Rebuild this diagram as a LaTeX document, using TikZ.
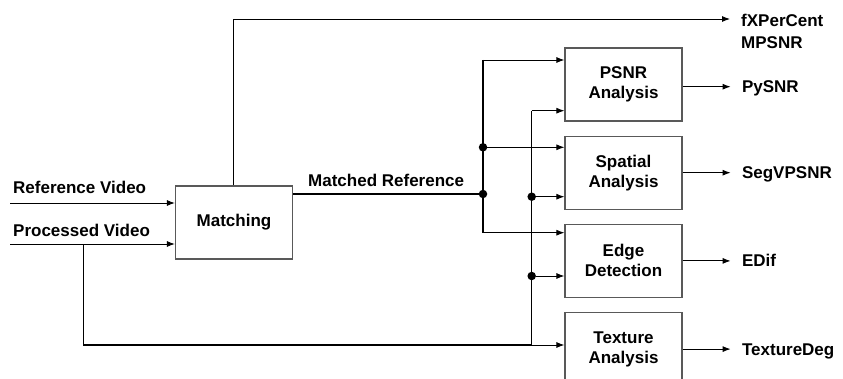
\documentclass[tikz,border=0pt]{standalone}
\usepackage{fontspec}
\setmainfont{Liberation Sans}
\usepackage{tikz}
\usetikzlibrary{positioning,arrows.meta}

\tikzset{
  blockbox/.style={draw=black!65, line width=1.2pt, minimum width=117pt, minimum height=73pt,
    inner sep=0pt, align=center, font=\fontsize{17}{20}\selectfont\bfseries},
  lbl/.style={anchor=base west, inner sep=0pt, font=\fontsize{17}{20}\selectfont\bfseries},
  arr/.style={-{Latex[length=8pt,width=6pt]}, line width=0.9pt},
  wire/.style={line width=1.3pt},
  junc/.style={circle, fill=black, inner sep=0pt, minimum size=8.5pt}
}

\begin{document}
\begin{tikzpicture}[x=1pt,y=1pt]
\useasboundingbox (0,0) rectangle (843,378);

% processing blocks
\node[blockbox] (match) at (234,155.5) {Matching};
\node[blockbox] (psnr) at (623.5,293.5) {PSNR\\Analysis};
\node[blockbox, below=14pt of psnr] (spatial) {Spatial\\Analysis};
\node[blockbox, below=14pt of spatial] (edge) {Edge\\Detection};
\node[blockbox, below=14pt of edge] (texture) {Texture\\Analysis};

% inputs
\coordinate (refin) at (10,175);
\coordinate (procin) at (10,134);
\node[lbl] (reflbl) at (13,184) {Reference Video};
\node[lbl] (proclbl) at (13,141.3) {Processed Video};
\draw[arr] (refin) -- (refin -| match.west);
\draw[arr] (procin) -- (procin -| match.west);

% processed video bypass
\coordinate (pdown) at (83.5,134);
\coordinate (pcorner) at (83.5,33);
\coordinate (pjoin) at (531.7,33);
\coordinate (ptop) at (531.7,267.3);
\draw[wire] (pdown) -- (pcorner) -- (pjoin);
\draw[arr] (pjoin) -- (pjoin -| texture.west);
\draw[wire] (pjoin) -- (ptop);
\draw[arr] (ptop) -- (ptop -| psnr.west);
\node[junc] (pj1) at (531.7,181.3) {};
\node[junc] (pj2) at (531.7,102) {};
\draw[arr] (pj1) -- (pj1 -| spatial.west);
\draw[arr] (pj2) -- (pj2 -| edge.west);

% matched reference
\coordinate (mout) at (match.east |- 0,184);
\node[junc] (mj1) at (483,184) {};
\node[junc] (mj2) at (483,230.7) {};
\coordinate (mtop) at (483,318);
\coordinate (mbot) at (483,145.3);
\node[lbl] (mlbl) at (308,191.3) {Matched Reference};
\draw[wire] (mout) -- (mj1);
\draw[wire] (mtop) -- (mbot);
\draw[arr] (mtop) -- (mtop -| psnr.west);
\draw[arr] (mj2) -- (mj2 -| spatial.west);
\draw[arr] (mbot) -- (mbot -| edge.west);

% outputs
\coordinate (mup) at (233.3,359);
\draw[line width=0.9pt] (match.north -| mup) -- (mup);
\draw[arr] (mup) -- (730,359) coordinate (fxend);
\node[lbl, align=left, font=\fontsize{17}{22}\selectfont\bfseries] (fxlbl) at (741,329.3) {fXPerCent\\MPSNR};
\draw[arr] (psnr.east |- 0,291.3) -- ++(48,0) node[lbl, xshift=11pt, yshift=-6pt] (pylbl) {PySNR};
\draw[arr] (spatial.east) -- ++(48,0) node[lbl, xshift=11pt, yshift=-6pt] (seglbl) {SegVPSNR};
\draw[arr] (edge.east) -- ++(48,0) node[lbl, xshift=11pt, yshift=-6pt] (edlbl) {EDif};
\draw[arr] (texture.east) -- ++(48,0) node[lbl, xshift=11pt, yshift=-6pt] (txlbl) {TextureDeg};
\end{tikzpicture}
\end{document}
